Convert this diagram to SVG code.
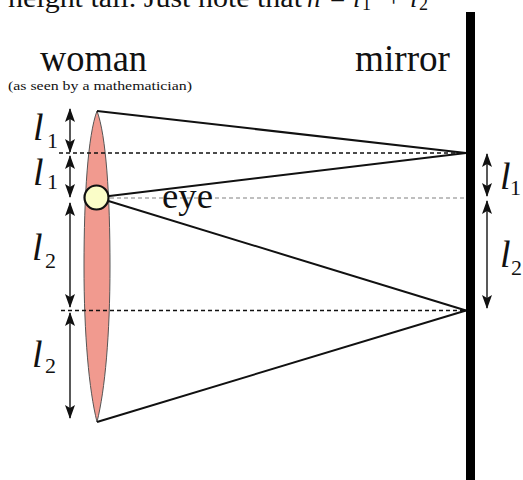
<svg xmlns="http://www.w3.org/2000/svg" width="523" height="480" viewBox="0 0 523 480">
<style>
text{font-family:"Liberation Serif","Times New Roman",serif;fill:#111}
.it{font-style:italic}
.ray{stroke:#111;stroke-width:2;fill:none}
.dash{stroke:#111;stroke-width:1.6;stroke-dasharray:4 3;fill:none}
.dashg{stroke:#aaa;stroke-width:1.6;stroke-dasharray:4 3;fill:none}
.dim{stroke:#222;stroke-width:1.5;fill:none;marker-start:url(#ah);marker-end:url(#ah)}
.lab{font-size:38px}
.sub{font-size:22px;font-style:normal}
</style>
<defs>
<marker id="ah" markerUnits="userSpaceOnUse" markerWidth="14" markerHeight="10" refX="13" refY="5" orient="auto-start-reverse" viewBox="0 0 14 10">
<path d="M0,0 L14,5 L0,10 L3,5 Z" fill="#111"/>
</marker>
</defs>
<rect width="523" height="480" fill="#fff"/>

<g id="caption">
<text x="8" y="7" font-size="27" textLength="294" lengthAdjust="spacingAndGlyphs">height tall. Just note that</text>
<text x="307" y="7" font-size="27" class="it">h</text>
<text x="330" y="7" font-size="27">=</text>
<text x="353" y="7" font-size="27" class="it">l</text>
<text x="362" y="10" font-size="18">1</text>
<text x="386" y="7" font-size="27">+</text>
<text x="410" y="7" font-size="27" class="it">l</text>
<text x="419" y="10" font-size="18">2</text>
</g>

<g id="woman-title">
<text x="40" y="71" font-size="37" textLength="107" lengthAdjust="spacingAndGlyphs">woman</text>
<text x="8" y="90" font-size="13" textLength="184" lengthAdjust="spacingAndGlyphs">(as seen by a mathematician)</text>
</g>
<g id="mirror-title">
<text x="355" y="71" font-size="37" textLength="95" lengthAdjust="spacingAndGlyphs">mirror</text>
</g>

<g id="woman">
<path d="M97,111 C106,135 110,195 110,266 C110,335 105,390 97,422 C89,390 84,335 84,266 C84,195 88,135 97,111 Z" fill="#F19A8F" stroke="#555" stroke-width="1"/>
</g>

<g id="mirror">
<rect x="466" y="12" width="9" height="468" fill="#000"/>
</g>

<g id="connectors">
<line class="dash" x1="59" y1="153" x2="466" y2="153"/>
<line class="dash" x1="61" y1="310.5" x2="466" y2="310.5"/>
<line class="dashg" x1="110" y1="198" x2="466" y2="198"/>
<line class="ray" x1="97" y1="111" x2="466" y2="153"/>
<line class="ray" x1="97" y1="197.5" x2="466" y2="153"/>
<line class="ray" x1="97" y1="197.5" x2="466" y2="310.5"/>
<line class="ray" x1="97" y1="422" x2="466" y2="310.5"/>
<line class="dim" x1="70" y1="109" x2="70" y2="152"/>
<line class="dim" x1="70" y1="156" x2="70" y2="197"/>
<line class="dim" x1="70" y1="203" x2="70" y2="307"/>
<line class="dim" x1="70" y1="313" x2="70" y2="418"/>
<line class="dim" x1="487" y1="154" x2="487" y2="196"/>
<line class="dim" x1="487" y1="201" x2="487" y2="308"/>
</g>

<g id="eye">
<circle cx="96.5" cy="197.5" r="12" fill="#FAFDC8" stroke="#111" stroke-width="2.2"/>
<text x="162" y="208" font-size="35" textLength="51" lengthAdjust="spacingAndGlyphs">eye</text>
</g>

<g id="labels">
<text class="lab it" x="33" y="140">l<tspan class="sub" x="47" y="148">1</tspan></text>
<text class="lab it" x="33" y="185">l<tspan class="sub" x="47" y="189">1</tspan></text>
<text class="lab it" x="32" y="260">l<tspan class="sub" x="45" y="268">2</tspan></text>
<text class="lab it" x="32" y="367">l<tspan class="sub" x="45" y="373">2</tspan></text>
<text class="lab it" x="500" y="189">l<tspan class="sub" x="510" y="195">1</tspan></text>
<text class="lab it" x="500" y="267">l<tspan class="sub" x="511" y="275">2</tspan></text>
</g>
</svg>
